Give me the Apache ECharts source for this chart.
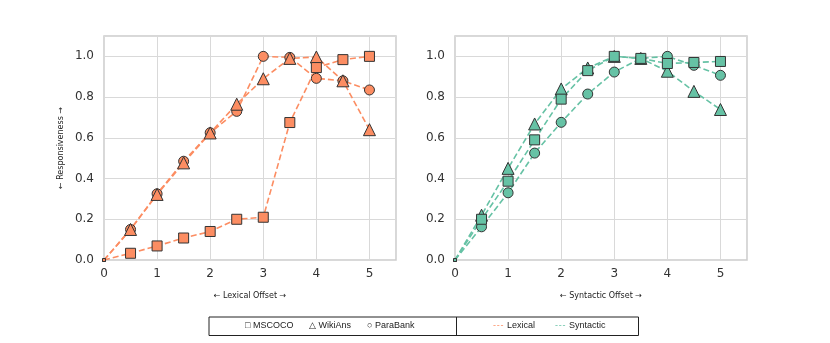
<!DOCTYPE html>
<html>
<head>
<meta charset="utf-8">
<script src="https://cdn.jsdelivr.net/npm/echarts@6/dist/echarts.min.js"></script>
<style>
  html, body { margin: 0; padding: 0; background: #fff; }
  #chart { width: 830px; height: 343px; }
</style>
</head>
<body>
<div id="chart"></div>
<script>
// offsets on the x axis
var offsets = [0, 0.5, 1, 1.5, 2, 2.5, 3, 3.5, 4, 4.5, 5];
var xTicks = [0, 1, 2, 3, 4, 5];
var yTicks = [0, 0.2, 0.4, 0.6, 0.8, 1.0];

// lexical panel
var lexMscoco   = [0, 0.033, 0.069, 0.108, 0.14, 0.2, 0.21, 0.675, 0.945, 0.984, 1.0];
var lexWikians  = [0, 0.15, 0.322, 0.477, 0.624, 0.765, 0.89, 0.99, 0.997, 0.88, 0.64];
var lexParabank = [0, 0.15, 0.325, 0.485, 0.625, 0.73, 1.0, 0.995, 0.892, 0.88, 0.835];

// syntactic panel
var synMscoco   = [0, 0.2, 0.387, 0.59, 0.79, 0.93, 1.0, 0.99, 0.965, 0.97, 0.975];
var synWikians  = [0, 0.22, 0.45, 0.668, 0.84, 0.943, 1.0, 0.99, 0.927, 0.828, 0.739];
var synParabank = [0, 0.163, 0.33, 0.525, 0.676, 0.815, 0.923, 0.99, 1.0, 0.956, 0.907];

var lexColor = '#fc8d62';
var synColor = '#66c2a5';

function pairs(vals) {
    return offsets.map(function (x, i) { return [x, vals[i]]; });
}

function makeSeries(name, vals, symbol, color, idx) {
    return {
        name: name,
        type: 'line',
        xAxisIndex: idx,
        yAxisIndex: idx,
        data: pairs(vals),
        symbol: symbol,
        symbolSize: function (v, p) {
            if (p.dataIndex === 0) return 3;
            return symbol === 'triangle' ? 12 : 10;
        },
        showAllSymbol: true,
        clip: false,
        lineStyle: { color: color, width: 1.6, type: [6, 3] },
        itemStyle: { color: color, borderColor: '#333', borderWidth: 1 },
        emphasis: { disabled: true },
        animation: false
    };
}

function xAxisFor(idx, name) {
    return {
        type: 'value', gridIndex: idx, min: 0, max: 5.5, interval: 1,
        name: name, nameLocation: 'middle', nameGap: 32,
        nameTextStyle: { fontSize: 8, color: '#222', fontFamily: 'DejaVu Sans' },
        axisLine: { show: false }, axisTick: { show: false },
        axisLabel: {
            fontSize: 12, color: '#333', fontFamily: 'DejaVu Sans', margin: 8,
            formatter: function (v) { return xTicks.indexOf(v) >= 0 ? String(v) : ''; }
        },
        splitLine: { show: true, lineStyle: { color: '#d9d9d9', width: 1 } }
    };
}

function yAxisFor(idx, name) {
    return {
        type: 'value', gridIndex: idx, min: 0, max: 1.1, interval: 0.2,
        name: name, nameLocation: 'middle', nameGap: 39,
        nameTextStyle: { fontSize: 8, color: '#222', fontFamily: 'DejaVu Sans' },
        axisLine: { show: false }, axisTick: { show: false },
        axisLabel: {
            fontSize: 12, color: '#333', fontFamily: 'DejaVu Sans', margin: 10,
            showMaxLabel: false,
            formatter: function (v) {
                var r = Math.round(v * 10) / 10;
                return yTicks.indexOf(r) >= 0 ? r.toFixed(1) : '';
            }
        },
        splitLine: { show: true, lineStyle: { color: '#d9d9d9', width: 1 } }
    };
}

var chart = echarts.init(document.getElementById('chart'), null, { renderer: 'canvas' });

var legendFont = '9px "Liberation Sans", sans-serif';
var dashes = '-\u200A-\u200A-';

var option = {
    backgroundColor: '#fff',
    animation: false,
    grid: [
        { left: 104, top: 36, width: 292, height: 224, show: true, borderColor: '#cccccc', borderWidth: 1.5, backgroundColor: 'transparent' },
        { left: 455, top: 36, width: 292, height: 224, show: true, borderColor: '#cccccc', borderWidth: 1.5, backgroundColor: 'transparent' }
    ],
    xAxis: [xAxisFor(0, '\u2190 Lexical Offset \u2192'), xAxisFor(1, '\u2190 Syntactic Offset \u2192')],
    yAxis: [yAxisFor(0, '\u2190 Responsiveness \u2192'), yAxisFor(1, '')],
    series: [
        makeSeries('ParaBank', lexParabank, 'circle', lexColor, 0),
        makeSeries('WikiAns', lexWikians, 'triangle', lexColor, 0),
        makeSeries('MSCOCO', lexMscoco, 'rect', lexColor, 0),
        makeSeries('ParaBank', synParabank, 'circle', synColor, 1),
        makeSeries('WikiAns', synWikians, 'triangle', synColor, 1),
        makeSeries('MSCOCO', synMscoco, 'rect', synColor, 1)
    ],
    graphic: [
        { type: 'rect', shape: { x: 209, y: 317, width: 429.5, height: 18.5 },
          style: { fill: '#fff', stroke: '#222', lineWidth: 1 } },
        { type: 'line', shape: { x1: 456.5, y1: 317, x2: 456.5, y2: 335.5 },
          style: { stroke: '#222', lineWidth: 1 } },
        { type: 'text', x: 245, y: 326, style: { text: '\u25A1 MSCOCO', font: legendFont, fill: '#222', verticalAlign: 'middle' } },
        { type: 'text', x: 309, y: 326, style: { text: '\u25B3 WikiAns', font: legendFont, fill: '#222', verticalAlign: 'middle' } },
        { type: 'text', x: 367, y: 326, style: { text: '\u25CB ParaBank', font: legendFont, fill: '#222', verticalAlign: 'middle' } },
        { type: 'text', x: 493, y: 326, style: { text: dashes, font: legendFont, fill: lexColor, verticalAlign: 'middle' } },
        { type: 'text', x: 507, y: 326, style: { text: 'Lexical', font: legendFont, fill: '#222', verticalAlign: 'middle' } },
        { type: 'text', x: 555, y: 326, style: { text: dashes, font: legendFont, fill: synColor, verticalAlign: 'middle' } },
        { type: 'text', x: 569, y: 326, style: { text: 'Syntactic', font: legendFont, fill: '#222', verticalAlign: 'middle' } }
    ]
};

chart.setOption(option);
</script>
</body>
</html>
